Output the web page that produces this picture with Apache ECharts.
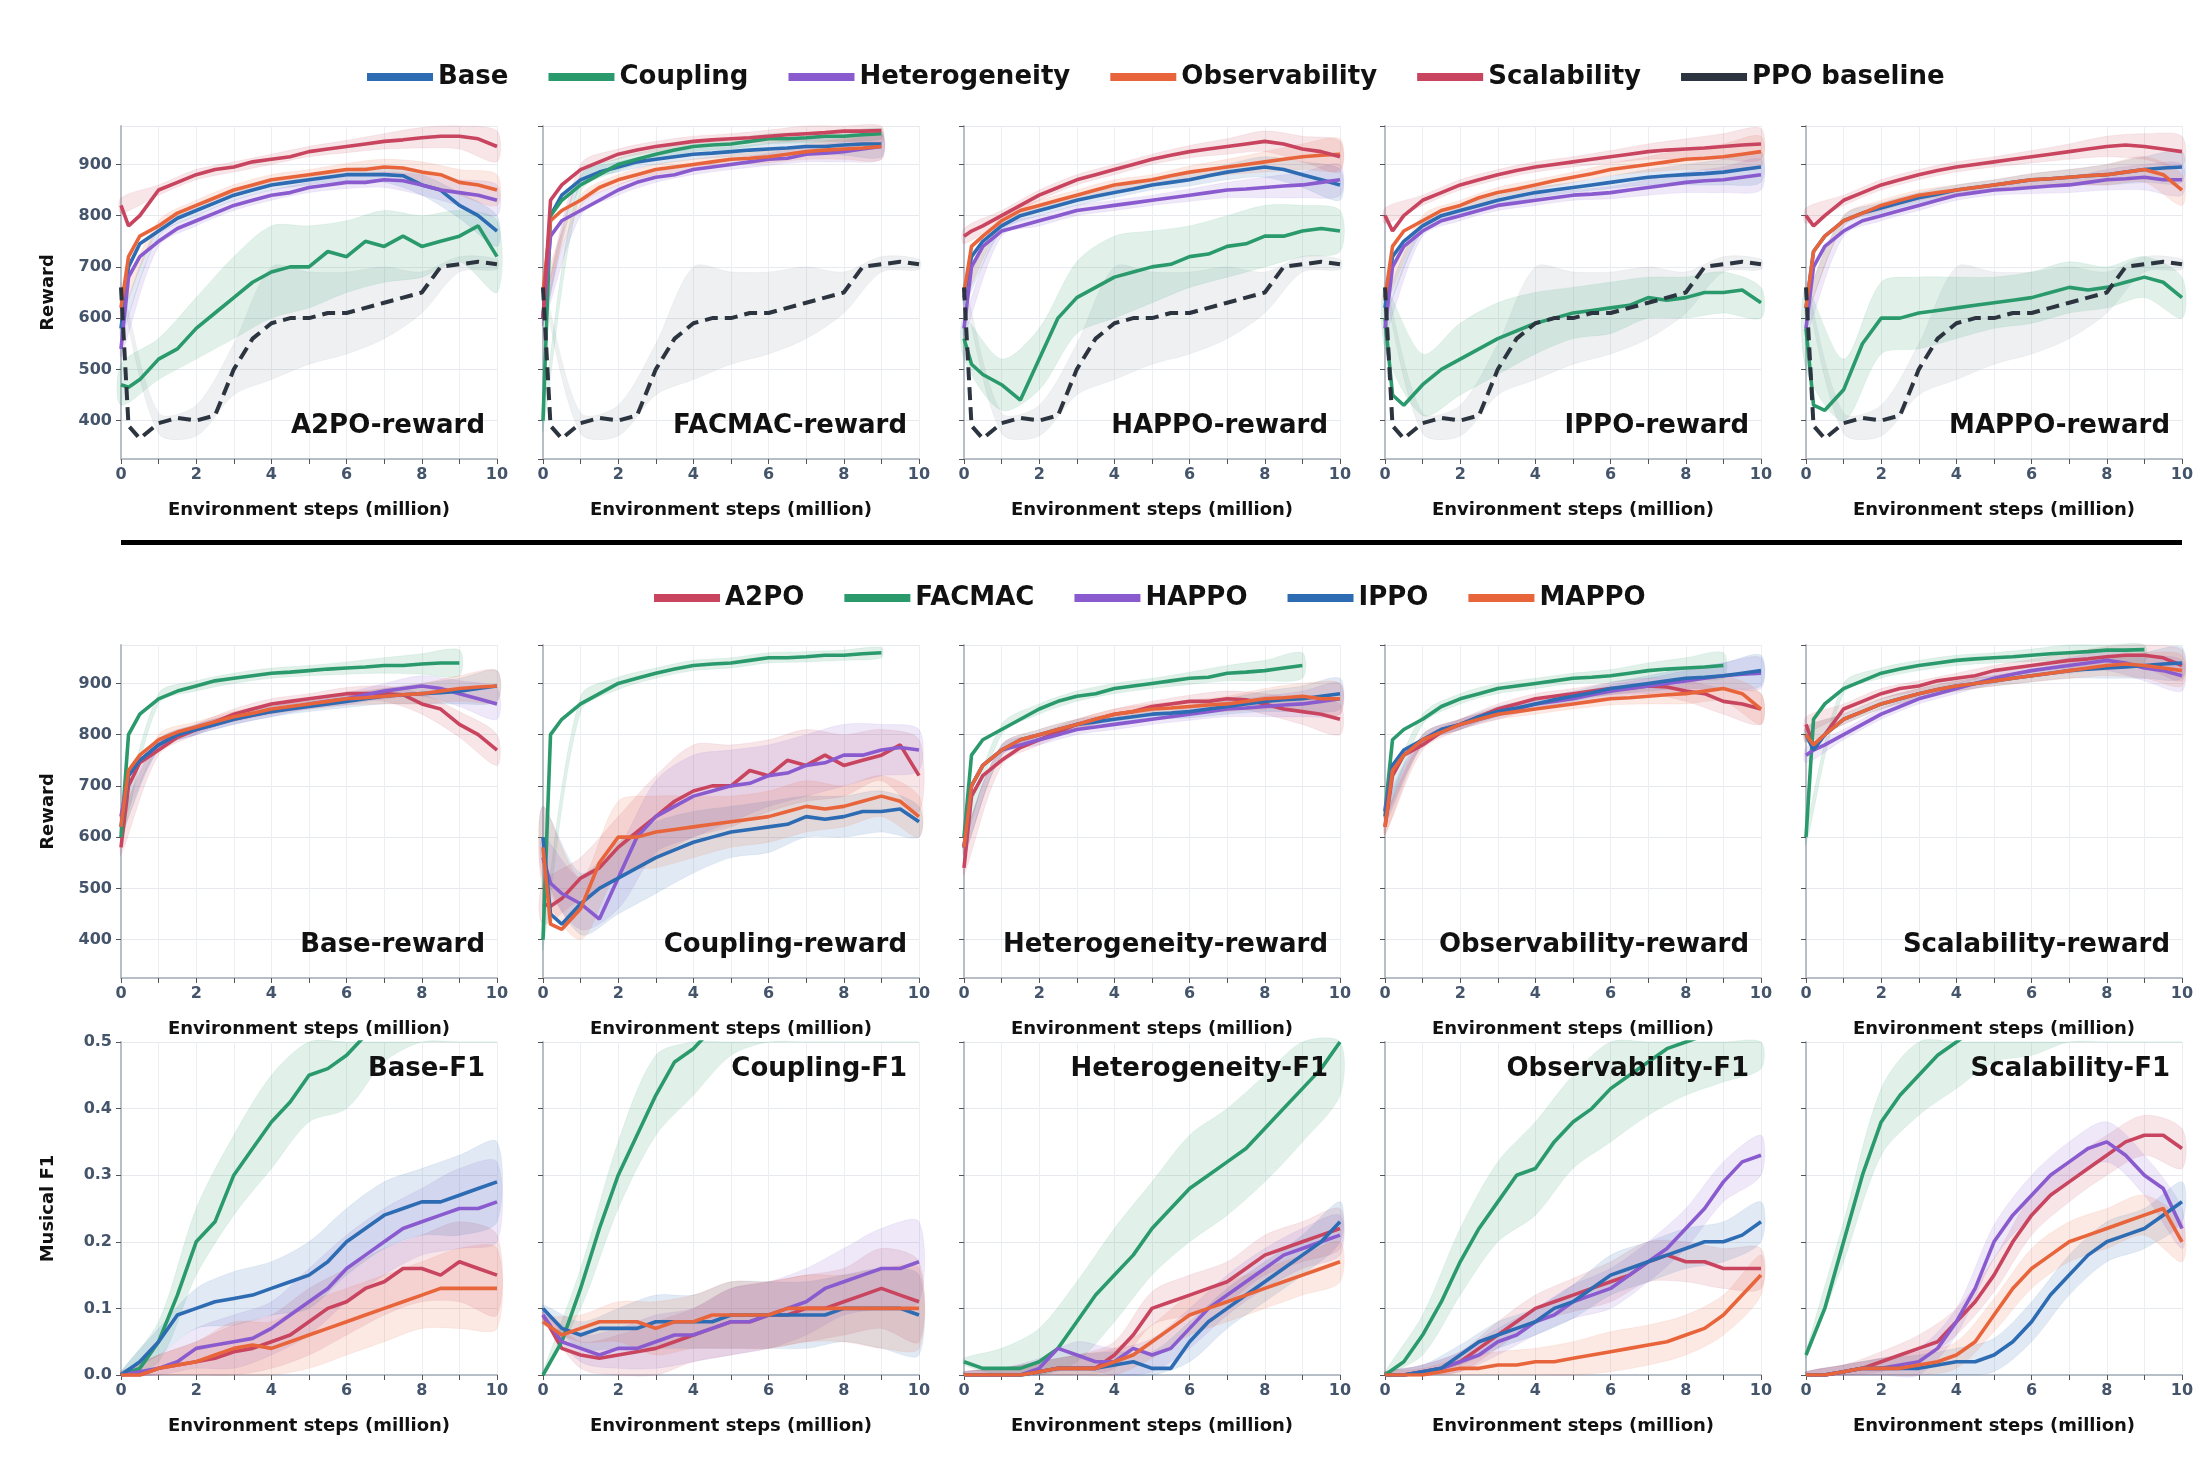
<!DOCTYPE html>
<html lang="en">
<head>
<meta charset="UTF-8">
<title></title>
<script src="https://cdn.jsdelivr.net/npm/echarts@6/dist/echarts.min.js"></script>
<style>html,body{margin:0;padding:0;background:#fff}</style>
</head>
<body>
<div id="main" style="width:2200px;height:1458px"></div>
<script>
// x grids (million steps)
var XR = [0,0.2,0.5,1,1.5,2,2.5,3,3.5,4,4.5,5,5.5,6,6.5,7,7.5,8,8.5,9,9.5,10];
var XF = [0,0.5,1,1.5,2,2.5,3,3.5,4,4.5,5,5.5,6,6.5,7,7.5,8,8.5,9,9.5,10];
var XB = [0,1,2,3,4,5,6,7,8,9,10];

var algos = ['A2PO','FACMAC','HAPPO','IPPO','MAPPO'];
var scens = ['Base','Coupling','Heterogeneity','Observability','Scalability'];

// reward curves, one per algorithm x scenario
var a2poBase = [580,700,745,770,795,810,825,840,850,860,865,870,875,880,880,880,878,860,850,820,800,770];
var a2poCoup = [470,465,480,520,540,580,610,640,670,690,700,700,730,720,750,740,760,740,750,760,780,720];
var a2poHet  = [540,680,720,750,775,790,805,820,830,840,845,855,860,865,865,870,868,860,850,845,840,830];
var a2poObs  = [620,720,760,780,805,820,835,850,860,870,875,880,885,890,890,895,893,885,880,865,860,850];
var a2poScal = [820,780,800,850,865,880,890,895,905,910,915,925,930,935,940,945,948,952,955,955,950,935];

var facmacBase = [600,800,840,870,885,895,905,910,915,920,922,925,928,930,932,935,935,938,940,940,null,null];
var facmacCoup = [400,800,830,860,880,900,910,920,928,935,938,940,945,950,950,952,955,955,958,960,null,null];
var facmacHet  = [600,760,790,810,830,850,865,875,880,890,895,900,905,910,912,920,922,925,930,935,null,null];
var facmacObs  = [650,790,810,830,855,870,880,890,895,900,905,910,912,915,920,925,928,930,932,935,null,null];
var facmacScal = [600,830,860,890,905,920,928,935,940,945,948,950,952,955,958,960,962,965,965,966,null,null];

var happoBase = [640,720,750,780,800,810,820,830,838,845,852,860,865,870,878,885,890,895,890,880,870,860];
var happoCoup = [560,510,490,470,440,520,600,640,660,680,690,700,705,720,725,740,745,760,760,770,775,770];
var happoHet  = [580,700,740,770,780,790,800,810,815,820,825,830,835,840,845,850,852,855,858,860,865,870];
var happoObs  = [650,740,760,790,810,820,830,840,850,860,865,870,878,885,890,895,900,905,910,915,918,920];
var happoScal = [760,770,780,800,820,840,855,870,880,890,900,910,918,925,930,935,940,945,940,930,925,915];

var ippoBase = [620,720,750,780,800,810,820,830,838,845,850,855,860,865,870,875,878,880,882,885,890,895];
var ippoCoup = [600,450,430,470,500,520,540,560,575,590,600,610,615,620,625,640,635,640,650,650,655,630];
var ippoHet  = [580,700,740,770,790,800,810,820,825,830,835,840,842,845,850,855,860,865,868,870,875,880];
var ippoObs  = [640,740,770,790,810,820,835,845,852,860,868,875,882,890,895,900,905,910,912,915,920,925];
var ippoScal = [800,770,800,830,845,860,870,880,888,895,900,905,910,915,920,925,928,930,932,935,938,940];

var mappoBase = [620,730,760,790,805,815,825,835,842,850,855,860,865,870,872,875,878,880,885,890,893,895];
var mappoCoup = [580,430,420,460,550,600,600,610,615,620,625,630,635,640,650,660,655,660,670,680,670,640];
var mappoHet  = [580,700,740,770,790,800,810,820,830,840,845,850,852,855,858,860,865,870,872,875,870,870];
var mappoObs  = [620,730,760,790,805,820,830,840,845,850,855,860,865,870,872,875,878,880,885,890,880,850];
var mappoScal = [800,780,800,830,845,860,870,880,888,895,900,905,910,915,920,925,930,935,938,935,930,925];

var ppoBaseline = [660,390,365,395,405,400,410,500,560,590,600,600,610,610,620,630,640,650,700,705,710,705];

// band half-widths at integer steps 0..10
var smallBand  = [15,10,10,10,10,10,12,15,20,25,30];
var a2poCoupB  = [40,40,60,80,90,80,70,70,60,50,70];
var happoCoupB = [40,50,60,70,80,70,60,60,60,50,40];
var ippoCoupB  = [60,60,70,70,60,50,50,40,40,40,30];
var mappoCoupB = [80,60,70,70,60,50,50,50,40,40,40];
var facmacCoupB= [20,15,12,10,10,10,10,10,10,10,10];
var ppoBand    = [10,20,30,50,110,90,80,70,40,15,10];

// Musical F1 curves
var f1BaseA2PO   = [0,0,0.01,0.015,0.02,0.025,0.035,0.04,0.05,0.06,0.08,0.1,0.11,0.13,0.14,0.16,0.16,0.15,0.17,0.16,0.15];
var f1BaseFACMAC = [0,0.01,0.05,0.12,0.2,0.23,0.3,0.34,0.38,0.41,0.45,0.46,0.48,0.51,0.55,0.58,0.6,0.62,0.64,0.65,0.66];
var f1BaseHAPPO  = [0,0.005,0.01,0.02,0.04,0.045,0.05,0.055,0.07,0.09,0.11,0.13,0.16,0.18,0.2,0.22,0.23,0.24,0.25,0.25,0.26];
var f1BaseIPPO   = [0,0.02,0.05,0.09,0.1,0.11,0.115,0.12,0.13,0.14,0.15,0.17,0.2,0.22,0.24,0.25,0.26,0.26,0.27,0.28,0.29];
var f1BaseMAPPO  = [0,0,0.01,0.015,0.02,0.03,0.04,0.045,0.04,0.05,0.06,0.07,0.08,0.09,0.1,0.11,0.12,0.13,0.13,0.13,0.13];

var f1CoupA2PO   = [0.09,0.04,0.03,0.025,0.03,0.035,0.04,0.05,0.06,0.07,0.08,0.08,0.09,0.09,0.1,0.1,0.11,0.12,0.13,0.12,0.11];
var f1CoupFACMAC = [0,0.05,0.13,0.22,0.3,0.36,0.42,0.47,0.49,0.52,0.55,0.57,0.58,0.6,0.6,0.61,0.62,0.62,0.63,0.63,0.64];
var f1CoupHAPPO  = [0.09,0.05,0.04,0.03,0.04,0.04,0.05,0.06,0.06,0.07,0.08,0.08,0.09,0.1,0.11,0.13,0.14,0.15,0.16,0.16,0.17];
var f1CoupIPPO   = [0.1,0.07,0.06,0.07,0.07,0.07,0.08,0.08,0.08,0.08,0.09,0.09,0.09,0.09,0.09,0.09,0.1,0.1,0.1,0.1,0.09];
var f1CoupMAPPO  = [0.08,0.06,0.07,0.08,0.08,0.08,0.07,0.08,0.08,0.09,0.09,0.09,0.09,0.1,0.1,0.1,0.1,0.1,0.1,0.1,0.1];

var f1HetA2PO   = [0,0,0,0,0.005,0.01,0.01,0.01,0.03,0.06,0.1,0.11,0.12,0.13,0.14,0.16,0.18,0.19,0.2,0.21,0.22];
var f1HetFACMAC = [0.02,0.01,0.01,0.01,0.02,0.04,0.08,0.12,0.15,0.18,0.22,0.25,0.28,0.3,0.32,0.34,0.37,0.4,0.43,0.46,0.5];
var f1HetHAPPO  = [0,0,0,0,0.01,0.04,0.03,0.02,0.02,0.04,0.03,0.04,0.07,0.1,0.12,0.14,0.16,0.18,0.19,0.2,0.21];
var f1HetIPPO   = [0,0,0,0,0.005,0.01,0.01,0.01,0.015,0.02,0.01,0.01,0.05,0.08,0.1,0.12,0.14,0.16,0.18,0.2,0.23];
var f1HetMAPPO  = [0,0,0,0,0.005,0.01,0.01,0.01,0.02,0.03,0.05,0.07,0.09,0.1,0.11,0.12,0.13,0.14,0.15,0.16,0.17];

var f1ObsA2PO   = [0,0,0.005,0.01,0.02,0.04,0.06,0.08,0.1,0.11,0.12,0.13,0.14,0.15,0.17,0.18,0.17,0.17,0.16,0.16,0.16];
var f1ObsFACMAC = [0,0.02,0.06,0.11,0.17,0.22,0.26,0.3,0.31,0.35,0.38,0.4,0.43,0.45,0.47,0.49,0.5,0.51,0.52,0.53,0.54];
var f1ObsHAPPO  = [0,0,0.005,0.01,0.02,0.03,0.05,0.06,0.08,0.09,0.11,0.12,0.13,0.15,0.17,0.19,0.22,0.25,0.29,0.32,0.33];
var f1ObsIPPO   = [0,0,0.005,0.01,0.03,0.05,0.06,0.07,0.08,0.1,0.11,0.13,0.15,0.16,0.17,0.18,0.19,0.2,0.2,0.21,0.23];
var f1ObsMAPPO  = [0,0,0,0.005,0.01,0.01,0.015,0.015,0.02,0.02,0.025,0.03,0.035,0.04,0.045,0.05,0.06,0.07,0.09,0.12,0.15];

var f1ScalA2PO   = [0,0,0.005,0.01,0.02,0.03,0.04,0.05,0.08,0.11,0.15,0.2,0.24,0.27,0.29,0.31,0.33,0.35,0.36,0.36,0.34];
var f1ScalFACMAC = [0.03,0.1,0.2,0.3,0.38,0.42,0.45,0.48,0.5,0.52,0.54,0.55,0.56,0.57,0.58,0.58,0.59,0.6,0.6,0.6,0.6];
var f1ScalHAPPO  = [0,0,0.005,0.01,0.01,0.015,0.02,0.04,0.08,0.13,0.2,0.24,0.27,0.3,0.32,0.34,0.35,0.33,0.3,0.28,0.22];
var f1ScalIPPO   = [0,0,0.005,0.01,0.01,0.01,0.01,0.015,0.02,0.02,0.03,0.05,0.08,0.12,0.15,0.18,0.2,0.21,0.22,0.24,0.26];
var f1ScalMAPPO  = [0,0,0.005,0.01,0.01,0.01,0.015,0.02,0.03,0.05,0.09,0.13,0.16,0.18,0.2,0.21,0.22,0.23,0.24,0.25,0.2];

// F1 band half-widths at integer steps
var f1SmallB  = [0.005,0.01,0.015,0.02,0.02,0.025,0.03,0.03,0.03,0.03,0.03];
var f1WideB   = [0.005,0.03,0.05,0.06,0.07,0.07,0.08,0.08,0.08,0.08,0.08];
var f1MidB    = [0.005,0.02,0.03,0.04,0.04,0.05,0.05,0.05,0.05,0.06,0.06];

var reward = {
  A2PO:   {Base:a2poBase, Coupling:a2poCoup, Heterogeneity:a2poHet, Observability:a2poObs, Scalability:a2poScal},
  FACMAC: {Base:facmacBase, Coupling:facmacCoup, Heterogeneity:facmacHet, Observability:facmacObs, Scalability:facmacScal},
  HAPPO:  {Base:happoBase, Coupling:happoCoup, Heterogeneity:happoHet, Observability:happoObs, Scalability:happoScal},
  IPPO:   {Base:ippoBase, Coupling:ippoCoup, Heterogeneity:ippoHet, Observability:ippoObs, Scalability:ippoScal},
  MAPPO:  {Base:mappoBase, Coupling:mappoCoup, Heterogeneity:mappoHet, Observability:mappoObs, Scalability:mappoScal}
};
var coupBand = {A2PO:a2poCoupB, FACMAC:facmacCoupB, HAPPO:happoCoupB, IPPO:ippoCoupB, MAPPO:mappoCoupB};
var f1 = {
  Base:          {A2PO:f1BaseA2PO, FACMAC:f1BaseFACMAC, HAPPO:f1BaseHAPPO, IPPO:f1BaseIPPO, MAPPO:f1BaseMAPPO},
  Coupling:      {A2PO:f1CoupA2PO, FACMAC:f1CoupFACMAC, HAPPO:f1CoupHAPPO, IPPO:f1CoupIPPO, MAPPO:f1CoupMAPPO},
  Heterogeneity: {A2PO:f1HetA2PO, FACMAC:f1HetFACMAC, HAPPO:f1HetHAPPO, IPPO:f1HetIPPO, MAPPO:f1HetMAPPO},
  Observability: {A2PO:f1ObsA2PO, FACMAC:f1ObsFACMAC, HAPPO:f1ObsHAPPO, IPPO:f1ObsIPPO, MAPPO:f1ObsMAPPO},
  Scalability:   {A2PO:f1ScalA2PO, FACMAC:f1ScalFACMAC, HAPPO:f1ScalHAPPO, IPPO:f1ScalIPPO, MAPPO:f1ScalMAPPO}
};

var scenColor = {Base:'#2d6bb3', Coupling:'#2a9a6c', Heterogeneity:'#8a5bcf', Observability:'#e8653c', Scalability:'#c8445f'};
var algoColor = {A2PO:'#c8445f', FACMAC:'#2a9a6c', HAPPO:'#8a5bcf', IPPO:'#2d6bb3', MAPPO:'#e8653c'};
var ppoColor = '#2c3440';

var FONT = 'DejaVu Sans';
var lefts = [121, 543, 964, 1385, 1806];
var W = 376, H = 333;
var tops = [126, 645, 1042];

var grids = [], xAxes = [], yAxes = [], series = [], graphics = [];

function pairs(xs, ys) {
  var out = [];
  for (var i = 0; i < xs.length; i++) if (ys[i] != null) out.push([xs[i], ys[i]]);
  return out;
}

function addLine(gi, name, xs, ys, color, dashed, z) {
  series.push({
    type: 'line', name: name, xAxisIndex: gi, yAxisIndex: gi, data: pairs(xs, ys),
    showSymbol: false, symbol: 'none', clip: true, z: z || 3,
    lineStyle: {color: color, width: dashed ? 4 : 3.6, type: dashed ? [13, 7] : 'solid'},
    itemStyle: {color: color}
  });
}

function addBand(gi, xs, ys, spread, color) {
  var rows = [];
  XB.forEach(function (x, i) {
    var k = xs.indexOf(x);
    if (k >= 0 && ys[k] != null) rows.push([x, ys[k] - spread[i], ys[k] + spread[i]]);
  });
  series.push({
    type: 'custom', xAxisIndex: gi, yAxisIndex: gi, data: rows, z: 1, silent: true,
    encode: {x: 0, y: 1},
    renderItem: function (params, api) {
      if (params.dataIndex !== 0) return;
      var pts = [];
      rows.forEach(function (r) { pts.push(api.coord([r[0], r[2]])); });
      for (var j = rows.length - 1; j >= 0; j--) pts.push(api.coord([rows[j][0], rows[j][1]]));
      var cs = params.coordSys;
      pts = echarts.graphic.clipPointsByRect(pts, {x: cs.x, y: cs.y, width: cs.width, height: cs.height});
      return {type: 'polygon', shape: {points: pts, smooth: 0.3},
        style: {fill: color, opacity: 0.14, stroke: color, lineWidth: 0.6}};
    }
  });
}

function addPanel(row, col, isF1, title) {
  var gi = grids.length;
  grids.push({left: lefts[col], top: tops[row], width: W, height: H});
  xAxes.push({
    gridIndex: gi, type: 'value', min: 0, max: 10, interval: 1,
    name: 'Environment steps (million)', nameLocation: 'middle', nameGap: 42,
    nameTextStyle: {fontFamily: FONT, fontWeight: 'bold', fontSize: 18, color: '#111'},
    axisLine: {lineStyle: {color: '#b7bec8', width: 2}},
    axisTick: {length: 5, lineStyle: {color: '#555'}},
    axisLabel: {fontFamily: FONT, fontWeight: 'bold', fontSize: 16, color: '#44546a', margin: 8,
      formatter: function (v) { return v % 2 === 0 ? String(v) : ''; }},
    splitLine: {show: true, lineStyle: {color: '#eceef1', width: 1}}
  });
  var y = {
    gridIndex: gi, type: 'value',
    axisLine: {show: true, lineStyle: {color: '#b7bec8', width: 2}},
    axisTick: {show: true, length: 5, lineStyle: {color: '#555'}},
    axisLabel: {show: col === 0, fontFamily: FONT, fontWeight: 'bold', fontSize: 16, color: '#44546a', margin: 9},
    splitLine: {show: true, lineStyle: {color: '#e6e9ed', width: 1.2}},
    nameLocation: 'middle', nameGap: 64,
    nameTextStyle: {fontFamily: FONT, fontWeight: 'bold', fontSize: 18, color: '#111'}
  };
  if (isF1) {
    y.min = 0; y.max = 0.5; y.interval = 0.1;
    y.axisLabel.formatter = function (v) { return v.toFixed(1); };
    if (col === 0) y.name = 'Musical F1';
  } else {
    y.min = 325; y.max = 975; y.splitNumber = 6;
    y.axisLabel.showMinLabel = false; y.axisLabel.showMaxLabel = false;
    if (col === 0) y.name = 'Reward';
  }
  yAxes.push(y);
  graphics.push({
    type: 'text', z: 10,
    x: lefts[col] + W - 12, y: isF1 ? tops[row] + 27 : tops[row] + H - 33,
    style: {text: title, align: 'right', verticalAlign: 'middle', fill: '#111',
      font: 'bold 26px "DejaVu Sans"'}
  });
  return gi;
}

// row 1: per algorithm, lines per scenario + PPO baseline
algos.forEach(function (a, c) {
  var gi = addPanel(0, c, false, a + '-reward');
  addBand(gi, XR, ppoBaseline, ppoBand, '#8a929c');
  scens.forEach(function (s) {
    addBand(gi, XR, reward[a][s], s === 'Coupling' ? coupBand[a] : smallBand, scenColor[s]);
  });
  scens.forEach(function (s) { addLine(gi, s, XR, reward[a][s], scenColor[s], false); });
  addLine(gi, 'PPO baseline', XR, ppoBaseline, ppoColor, true, 4);
});

// row 2: per scenario, lines per algorithm
scens.forEach(function (s, c) {
  var gi = addPanel(1, c, false, s + '-reward');
  algos.forEach(function (a) {
    addBand(gi, XR, reward[a][s], s === 'Coupling' ? coupBand[a] : smallBand, algoColor[a]);
  });
  algos.forEach(function (a) { addLine(gi, a, XR, reward[a][s], algoColor[a], false); });
});

// row 3: F1 per scenario
scens.forEach(function (s, c) {
  var gi = addPanel(2, c, true, s + '-F1');
  algos.forEach(function (a) {
    var b = a === 'FACMAC' ? f1WideB : (s === 'Coupling' || s === 'Base' ? f1MidB : f1SmallB);
    addBand(gi, XF, f1[s][a], b, algoColor[a]);
  });
  algos.forEach(function (a) { addLine(gi, a, XF, f1[s][a], algoColor[a], false); });
});

graphics.push({type: 'rect', shape: {x: 121, y: 540, width: 2061, height: 5}, style: {fill: '#000'}});

var legendText = {fontFamily: FONT, fontWeight: 'bold', fontSize: 26, color: '#111'};
var option = {
  backgroundColor: '#fff',
  animation: false,
  legend: [
    {data: scens.concat(['PPO baseline']), top: 59, left: 362, icon: 'rect', itemWidth: 66, itemHeight: 8,
      itemGap: 40, textStyle: legendText, selectedMode: false},
    {data: algos, top: 580, left: 649, icon: 'rect', itemWidth: 66, itemHeight: 8,
      itemGap: 40, textStyle: legendText, selectedMode: false}
  ],
  grid: grids, xAxis: xAxes, yAxis: yAxes, series: series, graphic: graphics
};

var chart = echarts.init(document.getElementById('main'));
chart.setOption(option);
</script>
</body>
</html>
